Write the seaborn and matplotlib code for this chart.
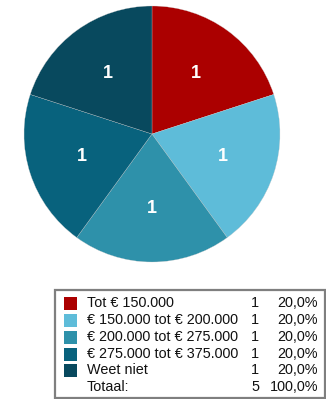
import matplotlib
matplotlib.use("Agg")
import matplotlib.pyplot as plt
from matplotlib.patches import Rectangle
import seaborn as sns

categories = [
    "Tot € 150.000",
    "€ 150.000 tot € 200.000",
    "€ 200.000 tot € 275.000",
    "€ 275.000 tot € 375.000",
    "Weet niet",
]
counts = [1, 1, 1, 1, 1]
total_label = "Totaal:"

sns.set_theme(style="white")
plt.rcParams["font.family"] = ["Liberation Sans", "DejaVu Sans"]

colors = sns.color_palette(["#AB0000", "#5EBCD9", "#2E91AA", "#08627D", "#08495E"])

W, H = 326, 399
fig = plt.figure(figsize=(W / 100, H / 100), dpi=100)
fig.patch.set_facecolor("white")

# pie area: centre (152, 134) px, radius 128 px
cx, cy, r = 152, 134, 128
ax = fig.add_axes([(cx - r) / W, (H - cy - r) / H, 2 * r / W, 2 * r / H])
wedges, texts = ax.pie(
    counts,
    colors=colors,
    startangle=90,
    counterclock=False,
    labels=[str(c) for c in counts],
    labeldistance=0.58,
    wedgeprops=dict(linewidth=0.2, edgecolor="#c8c8c8"),
    textprops=dict(color="white", fontsize=13, fontweight="bold",
                   ha="center", va="center"),
)
ax.set_xlim(-1, 1)
ax.set_ylim(-1, 1)
ax.set_aspect("equal")
ax.axis("off")


def px(x, y):
    return x / W, 1 - y / H


# legend table frame
fig.patches.append(Rectangle(px(55.5, 398), (325 - 55.5) / W, (398 - 290) / H,
                             transform=fig.transFigure, fill=False,
                             edgecolor="#7f7f7f", linewidth=1.6))

total = sum(counts)
row_y = [303, 320, 337, 354, 370]
fs = 10.4
for yy, cat, n, col in zip(row_y, categories, counts, colors):
    fig.patches.append(Rectangle(px(64, yy + 6.5), 13 / W, 13 / H,
                                 transform=fig.transFigure, facecolor=col,
                                 edgecolor="none"))
    fig.text(*px(87, yy), cat, fontsize=fs, va="center", ha="left", color="#111111")
    fig.text(*px(259, yy), f"{n}", fontsize=fs, va="center", ha="right", color="#111111")
    pct = f"{n / total * 100:.1f}%".replace(".", ",")
    fig.text(*px(318, yy), pct, fontsize=fs, va="center", ha="right", color="#111111")

yy = 387
fig.text(*px(87, yy), total_label, fontsize=fs, va="center", ha="left", color="#111111")
fig.text(*px(259, yy), f"{total}", fontsize=fs, va="center", ha="right", color="#111111")
fig.text(*px(318, yy), f"{100:.1f}%".replace(".", ","), fontsize=fs, va="center",
         ha="right", color="#111111")

fig.savefig("out.png", dpi=100, facecolor="white")
